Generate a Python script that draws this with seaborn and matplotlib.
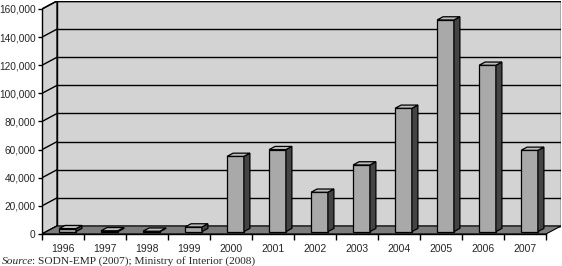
import matplotlib
matplotlib.use('Agg')
import matplotlib.pyplot as plt
from matplotlib.patches import Polygon
from matplotlib.ticker import FuncFormatter, FixedLocator
import numpy as np
import pandas as pd
import seaborn as sns

# data
years = ['1996', '1997', '1998', '1999', '2000', '2001',
         '2002', '2003', '2004', '2005', '2006', '2007']
counts = [2100, 600, 300, 3300, 53500, 58300,
          28000, 47400, 87700, 150500, 118300, 57800]
yticks = [0, 20000, 40000, 60000, 80000, 100000, 120000, 140000, 160000]

df = pd.DataFrame({'year': years, 'count': counts})

sns.set_style('white')
plt.rcParams['font.family'] = ['Liberation Sans', 'DejaVu Sans']

fig = plt.figure(figsize=(5.62, 2.66), dpi=100)
ax = fig.add_axes([42 / 562, 32 / 266, 519 / 562, 233 / 266])

# fake 3d depth, in data units (15 px across, 8 px up)
ymax = yticks[-1]
px_y = ymax / 225.0
dx = 15 / 42.0
dy = 8 * px_y
n = len(years)

wall = '#d3d3d3'
floor = '#7c7c7c'
front = '#a9a9a9'
side = '#444444'
top = '#bcbcbc'

# back wall and left side wall
ax.add_patch(Polygon([(-0.5 + dx, dy), (n - 0.5 + dx, dy), (n - 0.5 + dx, ymax + dy),
                      (-0.5 + dx, ymax + dy)], closed=True, facecolor=wall,
                     edgecolor='black', lw=1, zorder=0))
ax.add_patch(Polygon([(-0.5, 0), (-0.5 + dx, dy), (-0.5 + dx, ymax + dy), (-0.5, ymax)],
                     closed=True, facecolor=wall, edgecolor='black', lw=1, zorder=0))

for v in yticks:
    ax.plot([-0.5 + dx, n - 0.5 + dx], [v + dy, v + dy], color='black', lw=1, zorder=1)
    ax.plot([-0.5, -0.5 + dx], [v, v + dy], color='black', lw=1, zorder=1)

# floor
ax.add_patch(Polygon([(-0.5, 0), (n - 0.5, 0), (n - 0.5 + dx, dy), (-0.5 + dx, dy)],
                     closed=True, facecolor=floor, edgecolor='black', lw=0.8, zorder=2))

sns.barplot(data=df, x='year', y='count', color=front, saturation=1, width=0.4,
            edgecolor='black', linewidth=0.9, ax=ax, zorder=3)

fx, fy = 0.3 * dx, 0.3 * dy
ddx, ddy = 0.4 * dx, 0.4 * dy
for p in list(ax.patches):
    if p.get_zorder() != 3:
        continue
    x0 = p.get_x() + fx
    w = p.get_width()
    h = p.get_height()
    p.set_x(x0)
    p.set_y(fy)
    y1 = fy + h
    ax.add_patch(Polygon([(x0 + w, fy), (x0 + w + ddx, fy + ddy), (x0 + w + ddx, y1 + ddy),
                          (x0 + w, y1)], closed=True, facecolor=side,
                         edgecolor='black', lw=0.9, zorder=3))
    ax.add_patch(Polygon([(x0, y1), (x0 + ddx, y1 + ddy), (x0 + w + ddx, y1 + ddy),
                          (x0 + w, y1)], closed=True, facecolor=top,
                         edgecolor='black', lw=0.9, zorder=3))

ax.set_xlim(-0.5, n - 0.5 + dx)
ax.set_ylim(0, ymax + dy)

ax.set_yticks(yticks)
ax.yaxis.set_major_formatter(FuncFormatter(lambda v, pos: '{:,.0f}'.format(v)))
ax.tick_params(axis='y', length=3, width=1, direction='out', pad=1.5,
               labelsize=7.3, color='black', left=True)
ax.set_xticks(range(n))
ax.set_xticklabels(years)
ax.xaxis.set_minor_locator(FixedLocator(np.arange(-0.5, n, 1.0)))
ax.tick_params(axis='x', which='major', length=0, pad=7, labelsize=7.5)
ax.tick_params(axis='x', which='minor', length=4, width=1, direction='out',
               color='black', bottom=True)
ax.set_xlabel('')
ax.set_ylabel('')

for s in ['top', 'right']:
    ax.spines[s].set_visible(False)
ax.spines['left'].set_bounds(0, ymax)
ax.spines['bottom'].set_bounds(-0.5, n - 0.5)
for s in ['left', 'bottom']:
    ax.spines[s].set_color('black')
    ax.spines[s].set_linewidth(1)
    ax.spines[s].set_zorder(4)

src = fig.text(2 / 562, 5 / 266, 'Source', family='Liberation Serif',
               style='italic', fontsize=8.2, va='center')
ax.annotate(': SODN-EMP (2007); Ministry of Interior (2008)', xy=(1, 0),
            xycoords=src, xytext=(-0.8, 0), textcoords='offset points',
            va='bottom', ha='left', family='Liberation Serif',
            fontsize=8.2, annotation_clip=False)

fig.savefig('out.png', dpi=100)
